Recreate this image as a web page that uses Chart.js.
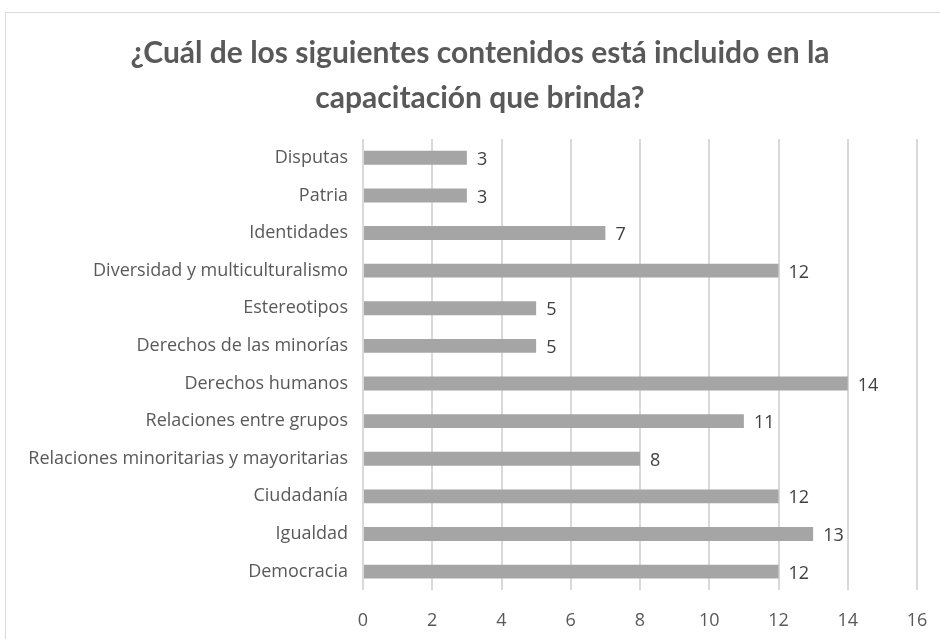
<!DOCTYPE html>
<html>
<head>
<meta charset="utf-8">
<script src="https://cdn.jsdelivr.net/npm/chart.js@4"></script>
<style>
  body { margin: 0; background: #fff; overflow: hidden; }
  #box {
    position: absolute; left: 5px; top: 12px; width: 950px; height: 640px;
    border-left: 1px solid #d9d9d9; border-top: 1px solid #d9d9d9;
  }
</style>
</head>
<body>
<div id="box"><canvas id="barChart"></canvas></div>
<script>
// categories top to bottom, as in the picture
const categorias = [
  "Disputas", "Patria", "Identidades", "Diversidad y multiculturalismo",
  "Estereotipos", "Derechos de las minorías", "Derechos humanos",
  "Relaciones entre grupos", "Relaciones minoritarias y mayoritarias",
  "Ciudadanía", "Igualdad", "Democracia"
];
const respuestas = [3, 3, 7, 12, 5, 5, 14, 11, 8, 12, 13, 12];
const titulo = ["¿Cuál de los siguientes contenidos está incluido en la", "capacitación que brinda?"];
const xMax = 16;
const xStep = 2;

// value labels at the end of each bar
const valueLabels = {
  id: "valueLabels",
  afterLayout(chart) {
    // title centred on the whole chart box, not only the padded area
    chart.titleBlock.left = 0;
    chart.titleBlock.right = chart.width - 2;
  },
  afterDatasetsDraw(chart) {
    const ctx = chart.ctx;
    const meta = chart.getDatasetMeta(0);
    ctx.save();
    ctx.font = "18px 'Open Sans'";
    ctx.fillStyle = "#404040";
    ctx.textAlign = "left";
    ctx.textBaseline = "middle";
    meta.data.forEach((bar, i) => {
      ctx.fillText(respuestas[i], bar.x + 10, bar.y + 2);
    });
    ctx.restore();
  }
};

const myChart = new Chart("barChart", {
  type: "bar",
  data: {
    labels: categorias,
    datasets: [{
      data: respuestas,
      backgroundColor: "#a5a5a5",
      barPercentage: 0.37,
      categoryPercentage: 1
    }]
  },
  options: {
    indexAxis: "y",
    responsive: true,
    maintainAspectRatio: false,
    animation: false,
    layout: { padding: { left: 0, right: 39, top: 0, bottom: 1 } },
    plugins: {
      legend: { display: false },
      tooltip: { enabled: false },
      title: {
        display: true,
        text: titulo,
        color: "#595959",
        font: { family: "Lato", size: 30, weight: "bold", lineHeight: 1.5 },
        padding: { top: 18, bottom: 18 }
      }
    },
    scales: {
      x: {
        min: 0,
        max: xMax,
        ticks: { stepSize: xStep, color: "#595959", padding: 20, font: { family: "'Open Sans'", size: 18 } },
        grid: { color: "#d9d9d9", lineWidth: 2, drawTicks: false },
        border: { display: false }
      },
      y: {
        afterFit(scale) { scale.width = 357; },
        ticks: { color: "#595959", padding: 15, font: { family: "'Open Sans'", size: 18 } },
        grid: { display: false, drawTicks: false },
        border: { display: false }
      }
    }
  },
  plugins: [valueLabels]
});
</script>
</body>
</html>
